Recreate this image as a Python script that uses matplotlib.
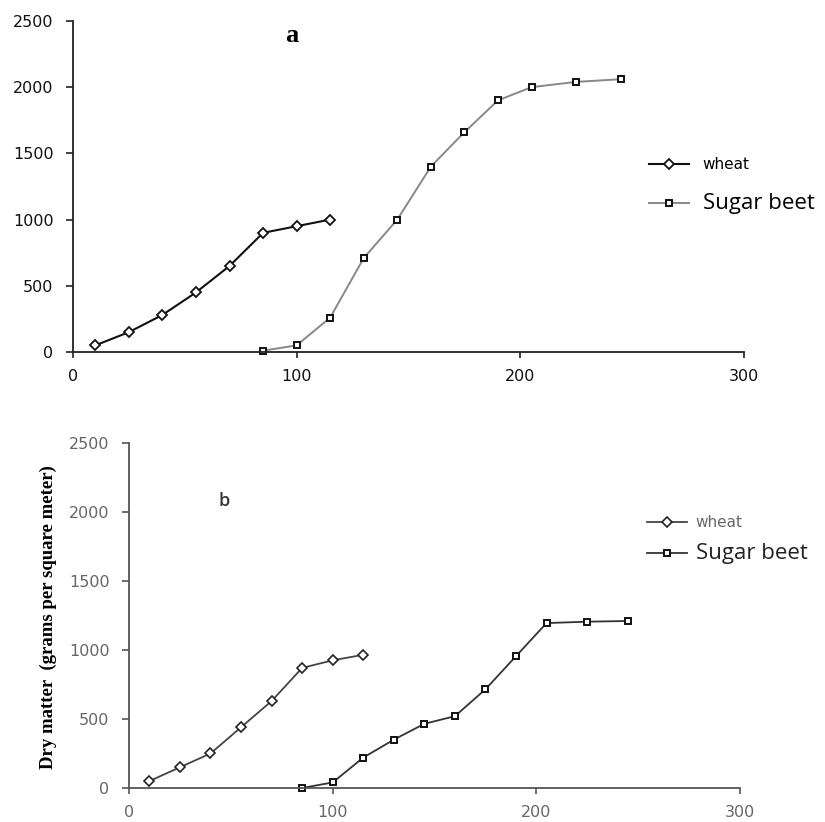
import matplotlib
matplotlib.use("Agg")
import matplotlib.pyplot as plt

# ---- data ----
days_wheat = [10, 25, 40, 55, 70, 85, 100, 115]
days_beet = [85, 100, 115, 130, 145, 160, 175, 190, 205, 225, 245]

wheat_a = [50, 150, 280, 450, 650, 900, 950, 1000]
beet_a = [10, 50, 260, 710, 1000, 1400, 1660, 1900, 2000, 2040, 2060]

wheat_b = [50, 150, 250, 440, 630, 870, 925, 965]
beet_b = [0, 40, 220, 350, 465, 520, 715, 955, 1195, 1205, 1210]

xticks = [0, 100, 200, 300]
yticks = [0, 500, 1000, 1500, 2000, 2500]
series_names = ["wheat", "Sugar beet"]
panel_labels = ["a", "b"]
ylabel = "Dry matter  (grams per square meter)"

fig = plt.figure(figsize=(8.25, 8.22), dpi=100)
ax1 = fig.add_axes([0.0885, 0.5718, 0.8133, 0.4027])
ax2 = fig.add_axes([0.1564, 0.0414, 0.7406, 0.4197])


def style_axes(ax, color, tickcolor):
    ax.set_xlim(0, 300)
    ax.set_ylim(0, 2500)
    ax.set_xticks(xticks)
    ax.set_yticks(yticks)
    for s in ["top", "right"]:
        ax.spines[s].set_visible(False)
    for s in ["left", "bottom"]:
        ax.spines[s].set_color(color)
        ax.spines[s].set_linewidth(1.3)
    ax.tick_params(axis="y", direction="out", length=5, width=1.2, color=color,
                   labelsize=11.5, labelcolor=tickcolor, pad=9)
    ax.tick_params(axis="x", direction="out", length=4, width=1.2, color=color,
                   labelsize=11.5, labelcolor=tickcolor, pad=8)
    for lbl in ax.get_xticklabels() + ax.get_yticklabels():
        lbl.set_fontfamily("DejaVu Sans")


# ---- panel a ----
style_axes(ax1, "#222222", "#111111")
l1, = ax1.plot(days_wheat, wheat_a, color="#111111", lw=1.5, marker="D", ms=5.5,
               mfc="white", mec="#111111", mew=1.3, clip_on=False)
l2, = ax1.plot(days_beet, beet_a, color="#888888", lw=1.4, marker="s", ms=5,
               mfc="white", mec="#111111", mew=1.4, clip_on=False)
ax1.text(0.326, 0.955, panel_labels[0], transform=ax1.transAxes,
         fontfamily="Liberation Serif", fontweight="bold", fontsize=19,
         ha="center", va="center")
leg1 = ax1.legend([l1, l2], series_names, loc="upper left",
                  bbox_to_anchor=(0.838, 0.63), frameon=False,
                  handlelength=2.6, handletextpad=0.9, labelspacing=1.35,
                  prop={"family": "DejaVu Sans", "size": 11})
leg1.get_texts()[1].set_fontfamily("Open Sans")
leg1.get_texts()[1].set_fontsize(16)

# ---- panel b ----
style_axes(ax2, "#555555", "#666666")
m1, = ax2.plot(days_wheat, wheat_b, color="#444444", lw=1.3, marker="D", ms=5.5,
               mfc="white", mec="#222222", mew=1.2, clip_on=False)
m2, = ax2.plot(days_beet, beet_b, color="#333333", lw=1.3, marker="s", ms=5,
               mfc="white", mec="#111111", mew=1.4, clip_on=False)
ax2.text(0.155, 0.833, panel_labels[1], transform=ax2.transAxes,
         fontfamily="Open Sans", fontweight="semibold", fontsize=13,
         color="#333333", ha="center", va="center")
leg2 = ax2.legend([m1, m2], series_names, loc="upper left",
                  bbox_to_anchor=(0.826, 0.83), frameon=False,
                  handlelength=2.6, handletextpad=0.55, labelspacing=0.8,
                  prop={"family": "DejaVu Sans", "size": 11})
leg2.get_texts()[0].set_color("#666666")
leg2.get_texts()[1].set_fontfamily("Open Sans")
leg2.get_texts()[1].set_fontsize(16)
leg2.get_texts()[1].set_color("#222222")

fig.text(0.058, 0.249, ylabel, rotation=90, ha="center", va="center",
         fontfamily="Liberation Serif", fontweight="bold", fontsize=13.5)

fig.savefig("out.png", dpi=100, facecolor="white")
